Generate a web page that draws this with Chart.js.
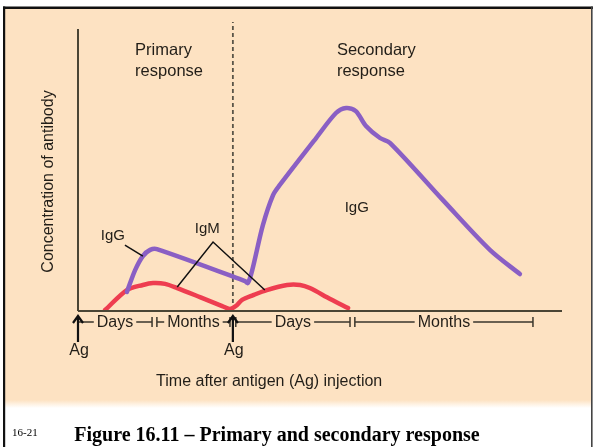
<!DOCTYPE html>
<html><head><meta charset="utf-8">
<script src="https://cdn.jsdelivr.net/npm/chart.js@4.4.1/dist/chart.umd.min.js"></script>
<style>html,body{margin:0;padding:0;background:#fff;overflow:hidden}canvas{display:block}</style>
</head><body><canvas id="c" width="594" height="447"></canvas>
<script>
// ---- data (arbitrary time units 0-100, concentration units 0-100) ----
const igGTime  = [10.1, 11.8, 13.4, 14.9, 16.3, 34.5, 35.1, 36.0, 38.2, 40.3, 41.7, 49.2, 53.3, 55.4, 57.4, 59.5, 62.4, 64.5, 75.4, 85.1, 91.3];
const igGLevel = [ 6.4, 14.2, 19.2, 21.4, 21.7, 10.3,  9.6, 14.2, 30.2, 40.9, 44.5, 61.2, 70.1, 71.9, 70.8, 65.5, 61.2, 59.4, 39.1, 21.4, 12.8];
const igMTime  = [5.6, 10.1, 13.4, 15.5, 18.0, 20.5, 25.2, 29.8, 31.4, 32.6, 33.9, 36.2, 39.0, 43.2, 45.9, 47.9, 52.1, 55.8];
const igMLevel = [0.0,  7.1,  8.9,  9.6,  9.3,  7.8,  4.6,  1.4,  0.4,  1.4,  3.6,  5.3,  7.1,  8.9,  8.9,  7.8,  3.9,  0.7];
const antigenTimes = [0, 32];
const periodLabels = ['Days', 'Months', 'Days', 'Months'];
const periodStart  = [0, 16.3, 32.6, 57.2];
const periodEnd    = [15.3, 31.4, 56.2, 94];
const responseLabels = [['Primary', 'response'], ['Secondary', 'response']];
const responseTime   = [11.8, 53.5];
const responseLevel  = [92.5, 92.5];
const curveLabels     = ['IgG', 'IgM', 'IgG'];
const curveLabelTime  = [7.2, 26.7, 57.6];
const curveLabelLevel = [26.3, 28.8, 36.3];
const igGPointerTime  = [9.7, 13.4];
const igGPointerLevel = [23.1, 19.2];
const igMPointerTime  = [20.5, 27.9, 38.6];
const igMPointerLevel = [8.2, 24.2, 7.1];
const dividerTime  = [32, 32];
const dividerLevel = [0, 102.5];
const xTitle = 'Time after antigen (Ag) injection';
const xTitleTime = 39.5;
const yTitle = 'Concentration of antibody';
const caption = 'Figure 16.11 \u2013 Primary and secondary response';
const slideNo = '16-21';

const pts = (xs, ys) => xs.map((x, i) => ({x, y: ys[i]}));
const SANS = '"Liberation Sans", Arial, Helvetica, sans-serif';
const SERIF = '"Liberation Serif", "Times New Roman", serif';
const INK = '#221e18';
const AXIS = '#4a4535';

const decor = {
  id: 'decor',
  beforeDraw(chart) {
    const c = chart.ctx;
    c.save();
    c.fillStyle = '#fff';
    c.fillRect(0, 0, 594, 447);
    c.fillStyle = '#fde2c2';
    c.fillRect(5, 9, 586, 392);
    const g = c.createLinearGradient(0, 400, 0, 408);
    g.addColorStop(0, '#fde2c2');
    g.addColorStop(1, '#ffffff');
    c.fillStyle = g;
    c.fillRect(5, 400, 586, 8);
    c.fillStyle = '#111';
    c.fillRect(3, 6.5, 590, 2.5);
    c.fillRect(3, 6.5, 2.2, 441);
    c.fillStyle = '#444';
    c.fillRect(591, 6.5, 1.6, 441);
    c.restore();
  },
  beforeDatasetsDraw(chart) {
    const c = chart.ctx, a = chart.chartArea;
    const ys = chart.scales.y;
    c.save();
    c.strokeStyle = AXIS;
    c.lineWidth = 2;
    c.beginPath();
    c.moveTo(a.left, a.top);
    c.lineTo(a.left, ys.getPixelForValue(0) + 1);
    c.moveTo(a.left, ys.getPixelForValue(0) + 1);
    c.lineTo(a.right, ys.getPixelForValue(0) + 1);
    c.stroke();
    c.restore();
  },
  afterDatasetsDraw(chart) {
    const c = chart.ctx, a = chart.chartArea;
    const xs = chart.scales.x, ys = chart.scales.y;
    const base = ys.getPixelForValue(0);
    c.save();
    c.fillStyle = INK;
    c.textBaseline = 'middle';
    // response headings
    c.font = '16.5px ' + SANS;
    c.textAlign = 'left';
    responseLabels.forEach((lines, i) => {
      const px = xs.getPixelForValue(responseTime[i]);
      c.fillText(lines[0], px, ys.getPixelForValue(responseLevel[i]));
      c.fillText(lines[1], px, ys.getPixelForValue(responseLevel[i]) + 21);
    });
    // curve labels
    c.font = '15px ' + SANS;
    c.textAlign = 'center';
    curveLabels.forEach((t, i) => {
      c.fillText(t, xs.getPixelForValue(curveLabelTime[i]), ys.getPixelForValue(curveLabelLevel[i]));
    });
    // timeline
    const ty = base + 12;
    c.strokeStyle = '#3a362c';
    c.lineWidth = 1.5;
    c.font = '16px ' + SANS;
    periodLabels.forEach((t, i) => {
      const x0 = xs.getPixelForValue(periodStart[i]);
      const x1 = xs.getPixelForValue(periodEnd[i]);
      const cx = (x0 + x1) / 2;
      const w = c.measureText(t).width;
      c.beginPath();
      c.moveTo(x0, ty); c.lineTo(cx - w / 2 - 3, ty);
      c.moveTo(cx + w / 2 + 3, ty); c.lineTo(x1, ty);
      if (periodStart[i] !== antigenTimes[0]) { c.moveTo(x0, ty - 5); c.lineTo(x0, ty + 5); }
      c.moveTo(x1, ty - 5); c.lineTo(x1, ty + 5);
      c.stroke();
      c.fillText(t, cx, ty + 1);
    });
    // antigen arrows
    c.strokeStyle = '#111';
    c.lineWidth = 2.2;
    antigenTimes.forEach(t => {
      const px = xs.getPixelForValue(t);
      c.beginPath();
      c.moveTo(px, base + 32); c.lineTo(px, base + 6);
      c.moveTo(px - 5, base + 13); c.lineTo(px, base + 6); c.lineTo(px + 5, base + 13);
      c.stroke();
      c.fillText('Ag', px + 1, base + 41);
    });
    // axis titles
    c.fillText(xTitle, xs.getPixelForValue(xTitleTime), base + 72);
    c.save();
    c.translate(a.left - 29, (a.top + base) / 2 + 12);
    c.rotate(-Math.PI / 2);
    c.fillText(yTitle, 0, 0);
    c.restore();
    // caption
    c.font = 'bold 20px ' + SERIF;
    c.fillStyle = '#000';
    c.fillText(caption, 277, 436);
    c.font = '11px ' + SERIF;
    c.textAlign = 'left';
    c.fillText(slideNo, 12, 433);
    c.restore();
  }
};

new Chart(document.getElementById('c'), {
  type: 'line',
  data: {
    datasets: [
      { label: 'IgG pointer', data: pts(igGPointerTime, igGPointerLevel), borderColor: '#111', borderWidth: 1.5, tension: 0, pointRadius: 0 },
      { label: 'IgM pointer', data: pts(igMPointerTime, igMPointerLevel), borderColor: '#111', borderWidth: 1.5, tension: 0, pointRadius: 0 },
      { label: 'IgG', data: pts(igGTime, igGLevel), borderColor: '#8a5fc4', borderWidth: 4.5, tension: 0.3, pointRadius: 0, borderCapStyle: 'round', borderJoinStyle: 'round' },
      { label: 'IgM', data: pts(igMTime, igMLevel), borderColor: '#ee3d50', borderWidth: 4.5, tension: 0.3, pointRadius: 0, borderCapStyle: 'round', borderJoinStyle: 'round' },
      { label: 'Second injection', data: pts(dividerTime, dividerLevel), borderColor: '#5a5548', borderWidth: 1.8, borderDash: [4, 3], pointRadius: 0, clip: false }
    ]
  },
  options: {
    responsive: false,
    animation: false,
    layout: { padding: { left: 78, right: 32, top: 29, bottom: 137 } },
    plugins: { legend: { display: false }, tooltip: { enabled: false } },
    scales: {
      x: { type: 'linear', min: 0, max: 100, display: false },
      y: { type: 'linear', min: 0, max: 100, display: false }
    }
  },
  plugins: [decor]
});
</script>
</body></html>
